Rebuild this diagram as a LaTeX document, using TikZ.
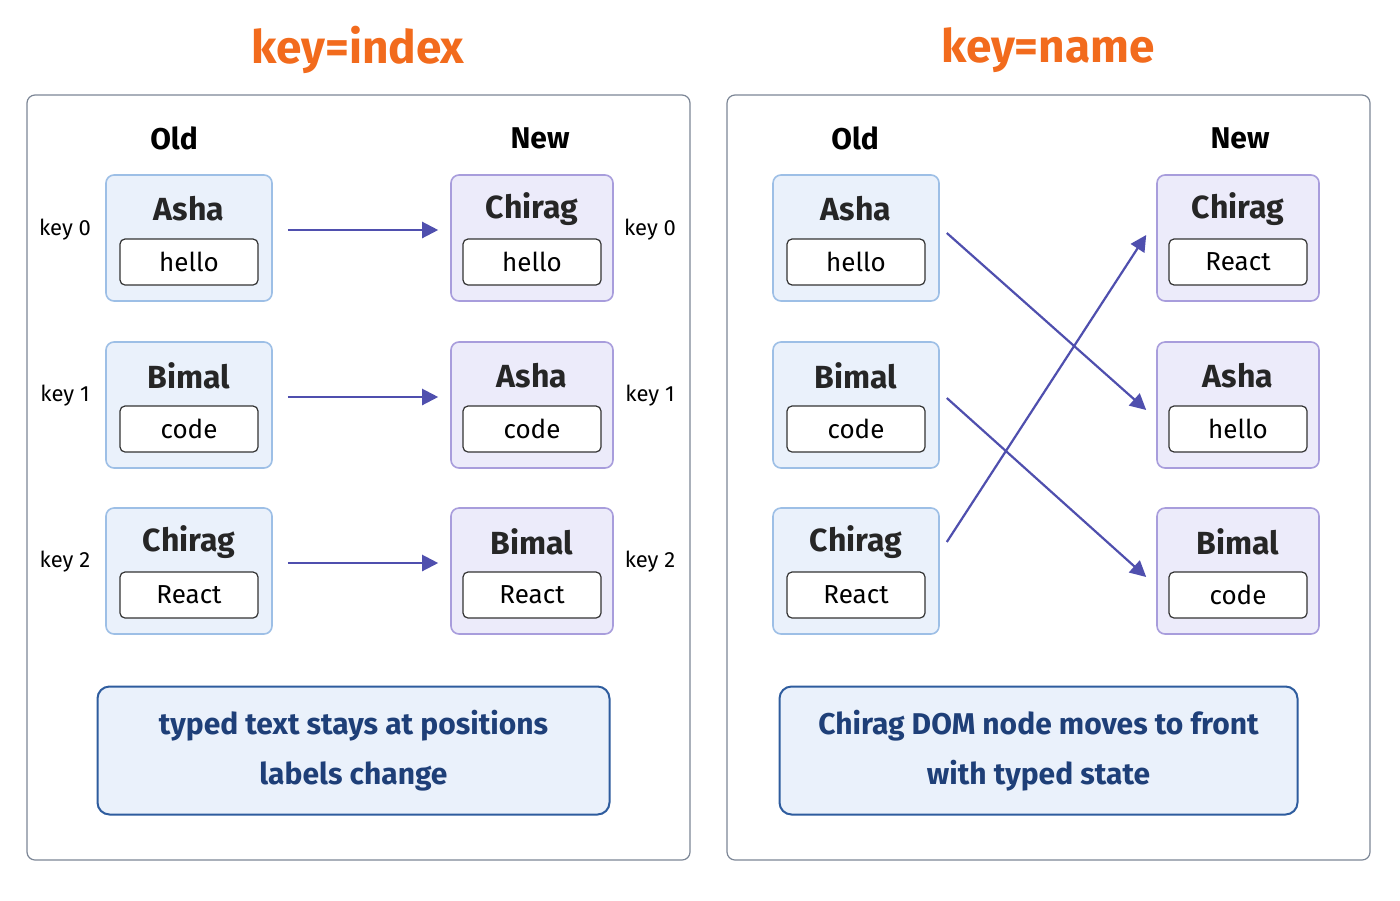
\documentclass[tikz,border=0pt]{standalone}
\usepackage{fontspec}
\setmainfont{Fira Sans}
\usetikzlibrary{positioning, calc, arrows.meta}
\definecolor{panelline}{HTML}{7C8696}
\definecolor{oldfill}{HTML}{EAF1FB}
\definecolor{oldline}{HTML}{9DBFE6}
\definecolor{newfill}{HTML}{ECEBFA}
\definecolor{newline}{HTML}{A89DDC}
\definecolor{arrowc}{HTML}{4F4FAE}
\definecolor{capline}{HTML}{2E5C9E}
\definecolor{captext}{HTML}{1E3F78}
\definecolor{titlec}{HTML}{F26B1D}
\tikzset{panel/.style={draw=panelline, rounded corners=4pt, fill=white, line width=0.6pt}}
\tikzset{oldcard/.style={draw=oldline, fill=oldfill, rounded corners=4pt, line width=0.8pt, minimum width=83pt, minimum height=63pt}}
\tikzset{newcard/.style={draw=newline, fill=newfill, rounded corners=4pt, line width=0.8pt, minimum width=81pt, minimum height=63pt}}
\tikzset{val/.style={draw=black!80, fill=white, rounded corners=2.5pt, line width=0.6pt, minimum width=69pt, minimum height=23pt, font=\fontsize{13}{15}\selectfont}}
\tikzset{who/.style={font=\fontsize{16}{18}\selectfont\bfseries, text=black!85}}
\tikzset{keylab/.style={font=\fontsize{11}{13}\selectfont}}
\tikzset{hdr/.style={font=\fontsize{15}{17}\selectfont\bfseries}}
\tikzset{move/.style={draw=arrowc, line width=1.1pt, -{Triangle[length=8pt,width=8pt]}}}
\tikzset{caption/.style={draw=capline, fill=oldfill, rounded corners=6pt, line width=1pt, minimum width=256pt, minimum height=64pt, align=center, text=captext, font=\fontsize{15}{25}\selectfont\bfseries}}
\newcommand{\card}[6]{%
  \node[#6] (#1) at (#2,#3) {};
  \node[who] (#1n) at ($(#1)+(0,-29)$) {#4};
  \node[val] (#1v) at ($(#1)+(0,24)$) {#5};}
\begin{document}
\begin{tikzpicture}[x=0.5pt, y=-0.5pt]
  \useasboundingbox (0,0) rectangle (1400,900);
  \node[panel, minimum width=331.5pt, minimum height=382.5pt] (pl) at (358.5,477.5) {};
  \node[panel, minimum width=321.5pt, minimum height=382.5pt] (pr) at (1048.5,477.5) {};
  \node[text=titlec, font=\fontsize{23}{26}\selectfont\bfseries] (tl) at (358,50) {key=index};
  \node[text=titlec, font=\fontsize{23}{26}\selectfont\bfseries] (tr) at (1048,50) {key=name};
  \node[hdr] (ol) at (174,138) {Old};
  \node[hdr] (nl) at (540,138) {New};
  \node[hdr] (or) at (855,138) {Old};
  \node[hdr] (nr) at (1240,138) {New};
  % key = index
  \card{a0}{189}{238}{Asha}{hello}{oldcard}
  \card{a1}{189}{405}{Bimal}{code}{oldcard}
  \card{a2}{189}{571}{Chirag}{React}{oldcard}
  \card{b0}{532}{238}{Chirag}{hello}{newcard}
  \card{b1}{532}{405}{Asha}{code}{newcard}
  \card{b2}{532}{571}{Bimal}{React}{newcard}
  \foreach \i/\y in {0/230, 1/396, 2/562} {
    \node[keylab] (kl\i) at (65,\y) {key \i};
    \node[keylab] (kr\i) at (650,\y) {key \i};
    \draw[move] ($(a\i.east)+(15,-8)$) coordinate (s\i) -- ($(b\i.west)+(-12,-8)$) coordinate (e\i);
  }
  % key = name
  \card{c0}{856}{238}{Asha}{hello}{oldcard}
  \card{c1}{856}{405}{Bimal}{code}{oldcard}
  \card{c2}{856}{571}{Chirag}{React}{oldcard}
  \card{d0}{1238}{238}{Chirag}{React}{newcard}
  \card{d1}{1238}{405}{Asha}{hello}{newcard}
  \card{d2}{1238}{571}{Bimal}{code}{newcard}
  \draw[move] ($(c0.east)+(7,-5)$) -- ($(d1.west)+(-10,5)$);
  \draw[move] ($(c1.east)+(7,-7)$) -- ($(d2.west)+(-10,6)$);
  \draw[move] ($(c2.east)+(7,-29)$) -- ($(d0.west)+(-10,-3)$);
  \node[caption] (capl) at (353.5,750.5) {typed text stays at positions\\labels change};
  \node[caption, minimum width=259pt] (capr) at (1038.5,750.5) {Chirag DOM node moves to front\\with typed state};
\end{tikzpicture}
\end{document}
